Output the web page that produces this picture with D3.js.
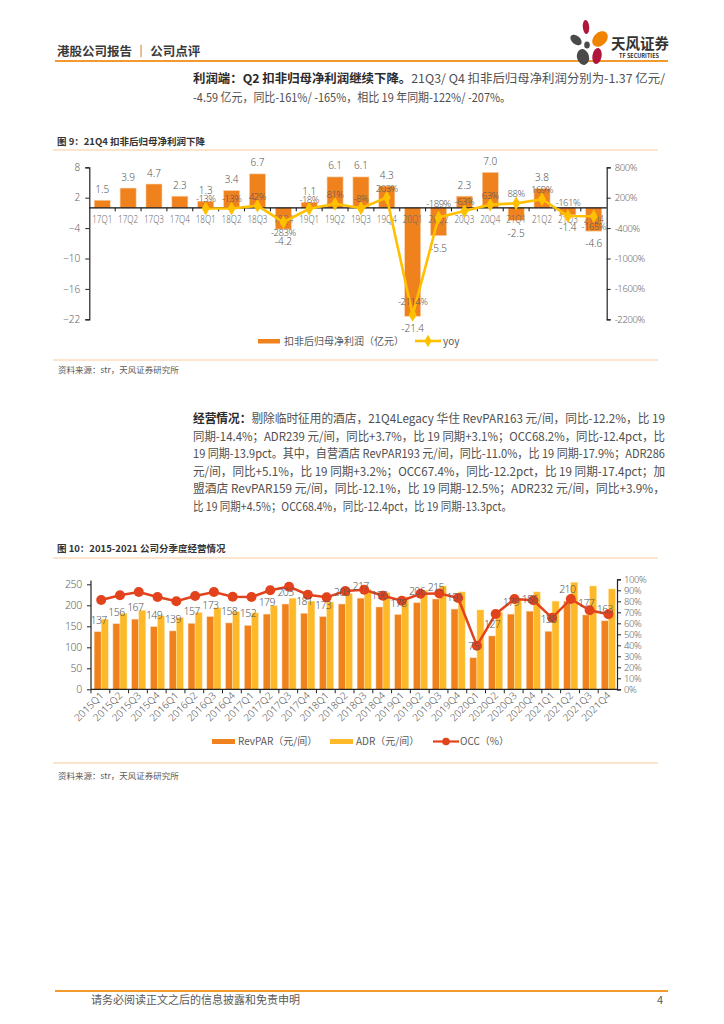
<!DOCTYPE html>
<html><head><meta charset="utf-8">
<script src="https://cdn.jsdelivr.net/npm/d3@7"></script>
<style>
html,body{margin:0;padding:0;background:#fff;}
svg{display:block;font-family:"Noto Sans CJK SC","Noto Sans",sans-serif;}
</style></head><body>
<svg id="page" width="724" height="1024"></svg>
<script>
// ---------- Figure 9 data ----------
const quarters9 = ["17Q1","17Q2","17Q3","17Q4","18Q1","18Q2","18Q3","18Q4","19Q1","19Q2","19Q3","19Q4","20Q1","20Q2","20Q3","20Q4","21Q1","21Q2","21Q3","21Q4"];
const profit9 = [1.5,3.9,4.7,2.3,1.3,3.4,6.7,-4.2,1.1,6.1,6.1,4.3,-21.4,-5.5,2.3,7.0,-2.5,3.8,-1.4,-4.6];
const yoy9 = [null,null,null,null,-13,-13,42,-283,-18,81,-8,203,-2114,-189,-63,63,88,169,-161,-165];
const leftTicks9 = [8,2,-4,-10,-16,-22];
const rightTicks9 = [800,200,-400,-1000,-1600,-2200];

// ---------- Figure 10 data ----------
const quarters10 = ["2015Q1","2015Q2","2015Q3","2015Q4","2016Q1","2016Q2","2016Q3","2016Q4","2017Q1","2017Q2","2017Q3","2017Q4","2018Q1","2018Q2","2018Q3","2018Q4","2019Q1","2019Q2","2019Q3","2019Q4","2020Q1","2020Q2","2020Q3","2020Q4","2021Q1","2021Q2","2021Q3","2021Q4"];
const revpar10 = [137,156,167,149,139,157,173,158,152,179,203,181,173,203,217,196,178,206,215,191,75,127,179,186,138,210,177,163];
const adr10 = [167,181,188,175,171,183,194,185,182,199,217,210,208,228,238,230,220,236,246,232,189,184,213,232,210,255,246,239];
const occ10 = [81.2,85.5,88.5,83.9,80.0,84.8,88.5,84.2,83.9,90.0,93.3,86.0,83.6,89.4,90.5,85.0,80.5,86.8,87.2,83.0,39.6,68.5,82.1,80.9,65.0,82.1,71.8,68.2];
const leftTicks10 = [0,50,100,150,200,250];
const rightTicks10 = [0,10,20,30,40,50,60,70,80,90,100];

// ---------- Text ----------
const header = "港股公司报告 ｜ 公司点评";
const para1 = [
  [["利润端：Q2 扣非归母净利润继续下降。", true], ["21Q3/ Q4 扣非后归母净利润分别为-1.37 亿元/", false]],
  [["-4.59 亿元，同比-161%/ -165%，相比 19 年同期-122%/ -207%。", false]]
];
const para2 = [
  [["经营情况：", true], ["剔除临时征用的酒店，21Q4Legacy 华住 RevPAR163 元/间，同比-12.2%，比 19", false]],
  [["同期-14.4%；ADR239 元/间，同比+3.7%，比 19 同期+3.1%；OCC68.2%，同比-12.4pct，比", false]],
  [["19 同期-13.9pct。其中，自营酒店 RevPAR193 元/间，同比-11.0%，比 19 同期-17.9%；ADR286", false]],
  [["元/间，同比+5.1%，比 19 同期+3.2%；OCC67.4%，同比-12.2pct，比 19 同期-17.4pct；加", false]],
  [["盟酒店 RevPAR159 元/间，同比-12.1%，比 19 同期-12.5%；ADR232 元/间，同比+3.9%，", false]],
  [["比 19 同期+4.5%；OCC68.4%，同比-12.4pct，比 19 同期-13.3pct。", false]]
];

const svg = d3.select("#page");
const ORANGE = "#F0821E", GOLD = "#FFC000", YELLOW = "#FDB92A", RED = "#E2421C";
const GRAY = "#595959", LIGHT = "#F9C99B";
const NUMFONT = "'Noto Sans','Liberation Sans',sans-serif";

// ---------- Header ----------
svg.append("text").attr("x", 57).attr("y", 56).attr("font-size", 12.5).attr("font-weight", "bold").attr("fill", "#3a3a3a").text(header);
svg.append("line").attr("x1", 55).attr("x2", 668).attr("y1", 61).attr("y2", 61).attr("stroke", "#F39A2E").attr("stroke-width", 2);
// logo
const logo = svg.append("g");
const petals = [
  {cx:586, cy:27, rx:3.2, ry:7, rot:-5, c:"#B0163C"},
  {cx:600, cy:39, rx:6.5, ry:9, rot:45, c:"#F08300"},
  {cx:576, cy:40, rx:4.2, ry:6.5, rot:-50, c:"#4A4A4A"},
  {cx:587, cy:45, rx:2.8, ry:3.6, rot:0, c:"#4A4A4A"},
  {cx:583, cy:57, rx:6, ry:8, rot:-15, c:"#4A4A4A"},
  {cx:597, cy:56, rx:4.6, ry:8, rot:10, c:"#B0163C"}
];
logo.selectAll("ellipse").data(petals).join("ellipse")
  .attr("cx", d=>d.cx).attr("cy", d=>d.cy).attr("rx", d=>d.rx).attr("ry", d=>d.ry)
  .attr("transform", d=>`rotate(${d.rot},${d.cx},${d.cy})`).attr("fill", d=>d.c);
svg.append("text").attr("x", 611).attr("y", 49).attr("font-size", 14.5).attr("font-weight", "bold").attr("fill", "#333").text("天风证券");
svg.append("text").attr("x", 619).attr("y", 58).attr("font-size", 5.5).attr("font-weight", "bold").attr("fill", "#333").text("TF SECURITIES");

// ---------- Paragraphs ----------
function paragraph(lines, x, y0, dy, lengths) {
  lines.forEach((segs, i) => {
    const t = svg.append("text").attr("x", x).attr("y", y0 + i*dy).attr("font-size", 12).attr("fill", "#4d4d4d");
    if (lengths[i]) t.attr("textLength", lengths[i]).attr("lengthAdjust", "spacingAndGlyphs");
    segs.forEach(([s, b]) => {
      t.append("tspan").attr("font-weight", b ? "bold" : "normal").attr("fill", b ? "#2b2b2b" : "#505050").text(s);
    });
  });
}
paragraph(para1, 193, 83, 19, [472, 318]);
paragraph(para2, 193, 423, 17.6, [472, 472, 472, 472, 472, 319]);

// ---------- Chart helpers ----------
function chartFrame(title, yTitle, yLine, ySrcLine, ySrc) {
  svg.append("text").attr("x", 57).attr("y", yTitle).attr("font-size", 9.5).attr("font-weight", "bold").attr("fill", "#333").text(title);
  svg.append("line").attr("x1", 53).attr("x2", 658).attr("y1", yLine).attr("y2", yLine).attr("stroke", LIGHT).attr("stroke-width", 1.2);
  svg.append("line").attr("x1", 53).attr("x2", 658).attr("y1", ySrcLine).attr("y2", ySrcLine).attr("stroke", LIGHT).attr("stroke-width", 1.2);
  svg.append("text").attr("x", 58).attr("y", ySrc).attr("font-size", 8.5).attr("fill", GRAY).text("资料来源：str，天风证券研究所");
}
function styleAxis(g, fs, ls) {
  g.select(".domain").attr("stroke", "#222").attr("stroke-width", 1.2);
  g.selectAll(".tick line").attr("stroke", "#222");
  g.selectAll(".tick text").attr("fill", "#666").attr("font-size", fs).attr("font-family", NUMFONT).attr("font-weight", 300).attr("letter-spacing", ls||0);
}

// ---------- Figure 9 ----------
chartFrame("图 9：21Q4 扣非后归母净利润下降", 145, 150, 360, 373);
const L9 = 89.3, R9 = 606.7;
const x9 = d3.scaleBand().domain(quarters9).range([L9, R9]).paddingInner(0.38).paddingOuter(0.19);
const y9 = d3.scaleLinear().domain([-22, 8]).range([319.3, 167.3]);
const yR9 = d3.scaleLinear().domain([-2200, 800]).range([319.3, 167.3]);
const c9 = svg.append("g");
const step9 = x9.step();
const cx9 = q => x9(q) + x9.bandwidth()/2;

c9.selectAll("rect.bar").data(profit9).join("rect").attr("class", "bar")
  .attr("x", (d,i)=>x9(quarters9[i])).attr("width", x9.bandwidth())
  .attr("y", d=>y9(Math.max(0,d))).attr("height", d=>Math.abs(y9(d)-y9(0)))
  .attr("fill", ORANGE).attr("stroke", "#FAD3AE").attr("stroke-width", 0.6);

const ax9L = c9.append("g").attr("transform", `translate(${L9},0)`).call(d3.axisLeft(y9).tickValues(leftTicks9).tickSize(4).tickPadding(5));
styleAxis(ax9L, 10);
const ax9R = c9.append("g").attr("transform", `translate(${R9},0)`).call(d3.axisRight(yR9).tickValues(rightTicks9).tickSize(4).tickPadding(4).tickFormat(d=>d+"%"));
styleAxis(ax9R, 9.5, -0.4);

// zero line + category ticks
c9.append("line").attr("x1", L9).attr("x2", R9).attr("y1", y9(0)).attr("y2", y9(0)).attr("stroke", "#111").attr("stroke-width", 1.4);
quarters9.forEach((q,i)=>{
  const xb = L9 + i*step9;
  if (i>0) c9.append("line").attr("x1", xb).attr("x2", xb).attr("y1", y9(0)).attr("y2", y9(0)+3.5).attr("stroke", "#111");
});
c9.selectAll("text.cat").data(quarters9).join("text").attr("class","cat")
  .attr("x", d=>cx9(d)-10).attr("y", y9(0)+15)
  .attr("textLength", 20).attr("lengthAdjust", "spacingAndGlyphs")
  .attr("font-size", 11).attr("font-weight", 300).attr("fill", "#6b6b6b").attr("font-family", NUMFONT).text(d=>d);

// value labels
c9.selectAll("text.val").data(profit9).join("text").attr("class","val")
  .attr("x", (d,i)=>cx9(quarters9[i]))
  .attr("y", d=> d>=0 ? y9(d)-7.5 : y9(d)+16)
  .attr("text-anchor","middle").attr("font-size", 10).attr("font-weight", 300).attr("fill", GRAY).attr("font-family", NUMFONT)
  .text(d=>d.toFixed(1));

// yoy line
const yoyPts = yoy9.map((v,i)=>({q:quarters9[i], v})).filter(d=>d.v!==null);
const line9 = d3.line().x(d=>cx9(d.q)).y(d=>yR9(d.v));
c9.append("path").datum(yoyPts).attr("d", line9).attr("fill","none").attr("stroke", GOLD).attr("stroke-width", 2.6);
c9.selectAll("path.mk").data(yoyPts).join("path").attr("class","mk")
  .attr("d", d3.symbol(d3.symbolDiamond).size(55))
  .attr("transform", d=>`translate(${cx9(d.q)},${yR9(d.v)})`).attr("fill", GOLD);
const below9 = new Set(["18Q4","21Q4"]);
c9.selectAll("text.yoy").data(yoyPts).join("text").attr("class","yoy")
  .attr("x", d=>cx9(d.q))
  .attr("y", d=> below9.has(d.q) ? yR9(d.v)+13.5 : yR9(d.v)-(d.v < -100 ? 10 : 6))
  .attr("text-anchor","middle").attr("font-size", 9.5).attr("font-weight", 300).attr("fill", GRAY).attr("font-family", NUMFONT)
  .attr("letter-spacing", -0.5)
  .text(d=>d.v+"%");

// legend 9
c9.append("rect").attr("x", 258).attr("y", 339).attr("width", 22).attr("height", 4.5).attr("fill", ORANGE);
c9.append("text").attr("x", 284).attr("y", 345).attr("font-size", 10).attr("fill", GRAY).text("扣非后归母净利润（亿元）");
c9.append("line").attr("x1", 415).attr("x2", 441).attr("y1", 341).attr("y2", 341).attr("stroke", GOLD).attr("stroke-width", 2.6);
c9.append("path").attr("d", d3.symbol(d3.symbolDiamond).size(45)).attr("transform","translate(428,341)").attr("fill", GOLD);
c9.append("text").attr("x", 443).attr("y", 345).attr("font-size", 10).attr("fill", GRAY).text("yoy");

// ---------- Figure 10 ----------
chartFrame("图 10：2015-2021 公司分季度经营情况", 552, 558, 763, 779);
const L10 = 91, R10 = 617, B10 = 689.3;
const x10 = d3.scaleBand().domain(quarters10).range([L10+0.8, R10+0.8]).paddingInner(0.25).paddingOuter(0.125);
const xs10 = d3.scaleBand().domain(["rev","adr"]).range([0, x10.bandwidth()]);
const y10 = d3.scaleLinear().domain([0, 250]).range([B10, 584.3]);
const yR10 = d3.scaleLinear().domain([0, 100]).range([B10, 579.3]);
const c10 = svg.append("g");

c10.selectAll("rect.rev").data(revpar10).join("rect").attr("class","rev")
  .attr("x", (d,i)=>x10(quarters10[i])+xs10("rev")).attr("width", xs10.bandwidth())
  .attr("y", d=>y10(d)).attr("height", d=>B10-y10(d)).attr("fill", ORANGE).attr("stroke", "#FAD3AE").attr("stroke-width", 0.5);
c10.selectAll("rect.adr").data(adr10).join("rect").attr("class","adr")
  .attr("x", (d,i)=>x10(quarters10[i])+xs10("adr")).attr("width", xs10.bandwidth())
  .attr("y", d=>y10(d)).attr("height", d=>B10-y10(d)).attr("fill", YELLOW).attr("stroke", "#FFE9B0").attr("stroke-width", 0.5);

// axes
const ax10L = c10.append("g").attr("transform", `translate(${L10},0)`).call(d3.axisLeft(y10).tickValues(leftTicks10).tickSize(4).tickPadding(5));
styleAxis(ax10L, 10.5, -0.3);
ax10L.select(".domain").attr("d", `M-0,${B10}V580.5`);
const ax10R = c10.append("g").attr("transform", `translate(${R10},0)`).call(d3.axisRight(yR10).tickValues(rightTicks10).tickSize(4).tickPadding(3).tickFormat(d=>d+"%"));
styleAxis(ax10R, 9.5, -0.4);
c10.append("line").attr("x1", L10).attr("x2", R10).attr("y1", B10).attr("y2", B10).attr("stroke", "#222").attr("stroke-width", 1.2);
const step10 = (R10-L10)/quarters10.length;
quarters10.forEach((q,i)=>{
  const xb = L10 + i*step10;
  c10.append("line").attr("x1", xb).attr("x2", xb).attr("y1", B10).attr("y2", B10+4).attr("stroke", "#222");
});
c10.selectAll("text.cat").data(quarters10).join("text").attr("class","cat")
  .attr("transform", d=>`translate(${x10(d)+x10.bandwidth()/2+3},${B10+7}) rotate(-45)`)
  .attr("text-anchor","end").attr("font-size", 10).attr("font-weight", 300).attr("fill", GRAY).attr("font-family", NUMFONT).text(d=>d);

// OCC line
const occPts = occ10.map((v,i)=>({q:quarters10[i], v}));
const line10 = d3.line().x(d=>x10(d.q)+x10.bandwidth()/2).y(d=>yR10(d.v));
c10.append("path").datum(occPts).attr("d", line10).attr("fill","none").attr("stroke", RED).attr("stroke-width", 2.5);
c10.selectAll("circle.occ").data(occPts).join("circle").attr("class","occ")
  .attr("cx", d=>x10(d.q)+x10.bandwidth()/2).attr("cy", d=>yR10(d.v)).attr("r", 5).attr("fill", RED);

// RevPAR labels
c10.selectAll("text.val").data(revpar10).join("text").attr("class","val")
  .attr("x", (d,i)=>x10(quarters10[i])+xs10("rev")+xs10.bandwidth()/2 + (i===0 ? 1 : 0))
  .attr("y", d=>y10(d)-8)
  .attr("text-anchor","middle").attr("font-size", 10.5).attr("font-weight", 300).attr("fill", GRAY).attr("font-family", NUMFONT)
  .attr("letter-spacing", -0.6)
  .text(d=>d);

// legend 10
c10.append("rect").attr("x", 212).attr("y", 739).attr("width", 23).attr("height", 5).attr("fill", ORANGE);
c10.append("text").attr("x", 238).attr("y", 745).attr("font-size", 10).attr("fill", GRAY).text("RevPAR（元/间）");
c10.append("rect").attr("x", 330).attr("y", 739).attr("width", 23).attr("height", 5).attr("fill", YELLOW);
c10.append("text").attr("x", 356).attr("y", 745).attr("font-size", 10).attr("fill", GRAY).text("ADR（元/间）");
c10.append("line").attr("x1", 433).attr("x2", 459).attr("y1", 741.5).attr("y2", 741.5).attr("stroke", RED).attr("stroke-width", 2.2);
c10.append("circle").attr("cx", 446).attr("cy", 741.5).attr("r", 3.8).attr("fill", RED);
c10.append("text").attr("x", 460).attr("y", 745).attr("font-size", 10).attr("fill", GRAY).text("OCC（%）");

// ---------- Footer ----------
svg.append("line").attr("x1", 55).attr("x2", 668).attr("y1", 991).attr("y2", 991).attr("stroke", "#F39A2E").attr("stroke-width", 2);
svg.append("text").attr("x", 91).attr("y", 1004).attr("font-size", 11).attr("fill", GRAY).text("请务必阅读正文之后的信息披露和免责申明");
svg.append("text").attr("x", 657).attr("y", 1004).attr("font-size", 11).attr("fill", GRAY).text("4");
</script>
</body></html>
